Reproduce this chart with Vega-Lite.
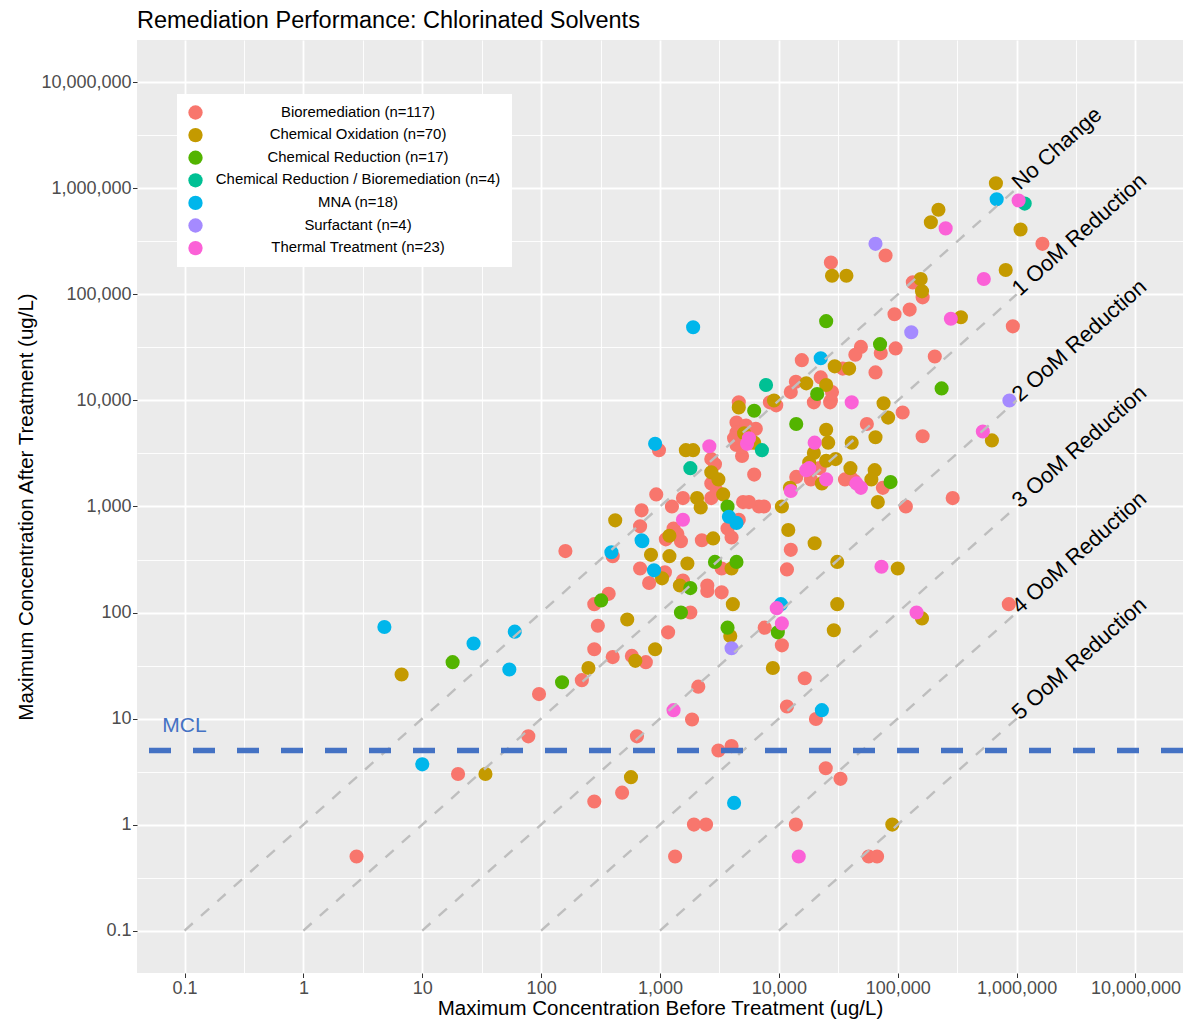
{
  "$schema": "https://vega.github.io/schema/vega-lite/v6.json",
  "width": 1046,
  "height": 933,
  "autosize": {"type": "none"},
  "padding": {"left": 137, "top": 40, "right": 3, "bottom": 47},
  "background": "white",
  "title": {
    "text": "Remediation Performance: Chlorinated Solvents",
    "anchor": "start",
    "frame": "group",
    "fontSize": 23.5,
    "fontWeight": "normal",
    "color": "black",
    "offset": 8
  },
  "config": {
    "font": "Liberation Sans",
    "view": {"fill": "#EBEBEB", "stroke": null},
    "axis": {
      "domain": false,
      "gridColor": "white",
      "tickColor": "#333333",
      "tickSize": 4.5,
      "tickWidth": 1,
      "labelFontSize": 18,
      "labelColor": "#4D4D4D",
      "labelPadding": 1.5,
      "titleFontSize": 20.5,
      "titleFontWeight": "normal",
      "titleColor": "black",
      "labelOverlap": false
    },
    "axisX": {"titlePadding": 1.5},
    "axisY": {"titlePadding": 4}
  },
  "datasets": {
    "sites": [
      {"method": "Bioremediation (n=117)", "before": 2.8, "after": 0.5},
      {"method": "Bioremediation (n=117)", "before": 20, "after": 3},
      {"method": "Bioremediation (n=117)", "before": 78, "after": 6.8},
      {"method": "Bioremediation (n=117)", "before": 96, "after": 17},
      {"method": "Bioremediation (n=117)", "before": 160, "after": 380},
      {"method": "Bioremediation (n=117)", "before": 220, "after": 23},
      {"method": "Bioremediation (n=117)", "before": 280, "after": 120},
      {"method": "Bioremediation (n=117)", "before": 370, "after": 150},
      {"method": "Bioremediation (n=117)", "before": 300, "after": 75},
      {"method": "Bioremediation (n=117)", "before": 280, "after": 45},
      {"method": "Bioremediation (n=117)", "before": 400, "after": 38},
      {"method": "Bioremediation (n=117)", "before": 580, "after": 39},
      {"method": "Bioremediation (n=117)", "before": 760, "after": 34},
      {"method": "Bioremediation (n=117)", "before": 1170, "after": 65},
      {"method": "Bioremediation (n=117)", "before": 1800, "after": 100},
      {"method": "Bioremediation (n=117)", "before": 2500, "after": 160},
      {"method": "Bioremediation (n=117)", "before": 3300, "after": 155},
      {"method": "Bioremediation (n=117)", "before": 2100, "after": 20},
      {"method": "Bioremediation (n=117)", "before": 1860, "after": 9.8},
      {"method": "Bioremediation (n=117)", "before": 640, "after": 6.8},
      {"method": "Bioremediation (n=117)", "before": 3100, "after": 5},
      {"method": "Bioremediation (n=117)", "before": 4000, "after": 5.5},
      {"method": "Bioremediation (n=117)", "before": 480, "after": 2},
      {"method": "Bioremediation (n=117)", "before": 280, "after": 1.65},
      {"method": "Bioremediation (n=117)", "before": 1930, "after": 1},
      {"method": "Bioremediation (n=117)", "before": 2440, "after": 1},
      {"method": "Bioremediation (n=117)", "before": 1340, "after": 0.5},
      {"method": "Bioremediation (n=117)", "before": 400, "after": 340},
      {"method": "Bioremediation (n=117)", "before": 700, "after": 920},
      {"method": "Bioremediation (n=117)", "before": 680, "after": 650},
      {"method": "Bioremediation (n=117)", "before": 680, "after": 260},
      {"method": "Bioremediation (n=117)", "before": 810, "after": 190},
      {"method": "Bioremediation (n=117)", "before": 1100, "after": 240},
      {"method": "Bioremediation (n=117)", "before": 930, "after": 1300},
      {"method": "Bioremediation (n=117)", "before": 980, "after": 3400},
      {"method": "Bioremediation (n=117)", "before": 2700, "after": 2800},
      {"method": "Bioremediation (n=117)", "before": 2700, "after": 1650},
      {"method": "Bioremediation (n=117)", "before": 1560, "after": 1200},
      {"method": "Bioremediation (n=117)", "before": 1260, "after": 1000},
      {"method": "Bioremediation (n=117)", "before": 2700, "after": 1200},
      {"method": "Bioremediation (n=117)", "before": 1300, "after": 620},
      {"method": "Bioremediation (n=117)", "before": 1120, "after": 490},
      {"method": "Bioremediation (n=117)", "before": 1500, "after": 470},
      {"method": "Bioremediation (n=117)", "before": 2250, "after": 480},
      {"method": "Bioremediation (n=117)", "before": 4000, "after": 510},
      {"method": "Bioremediation (n=117)", "before": 4600, "after": 750},
      {"method": "Bioremediation (n=117)", "before": 3700, "after": 620},
      {"method": "Bioremediation (n=117)", "before": 5000, "after": 1100},
      {"method": "Bioremediation (n=117)", "before": 1560, "after": 200},
      {"method": "Bioremediation (n=117)", "before": 3300, "after": 260},
      {"method": "Bioremediation (n=117)", "before": 2500, "after": 180},
      {"method": "Bioremediation (n=117)", "before": 4600, "after": 9600},
      {"method": "Bioremediation (n=117)", "before": 4400, "after": 6200},
      {"method": "Bioremediation (n=117)", "before": 5300, "after": 5800},
      {"method": "Bioremediation (n=117)", "before": 4400, "after": 5000},
      {"method": "Bioremediation (n=117)", "before": 4400, "after": 3800},
      {"method": "Bioremediation (n=117)", "before": 4900, "after": 3000},
      {"method": "Bioremediation (n=117)", "before": 6200, "after": 2000},
      {"method": "Bioremediation (n=117)", "before": 6800, "after": 1000},
      {"method": "Bioremediation (n=117)", "before": 6400, "after": 5400},
      {"method": "Bioremediation (n=117)", "before": 5800, "after": 4000},
      {"method": "Bioremediation (n=117)", "before": 8400, "after": 9600},
      {"method": "Bioremediation (n=117)", "before": 19700, "after": 9600},
      {"method": "Bioremediation (n=117)", "before": 27000, "after": 9600},
      {"method": "Bioremediation (n=117)", "before": 14000, "after": 1900},
      {"method": "Bioremediation (n=117)", "before": 18600, "after": 1800},
      {"method": "Bioremediation (n=117)", "before": 5600, "after": 1100},
      {"method": "Bioremediation (n=117)", "before": 7500, "after": 1000},
      {"method": "Bioremediation (n=117)", "before": 40000, "after": 1900},
      {"method": "Bioremediation (n=117)", "before": 43000, "after": 1750},
      {"method": "Bioremediation (n=117)", "before": 75000, "after": 1500},
      {"method": "Bioremediation (n=117)", "before": 55000, "after": 6000},
      {"method": "Bioremediation (n=117)", "before": 110000, "after": 7700},
      {"method": "Bioremediation (n=117)", "before": 162000, "after": 4600},
      {"method": "Bioremediation (n=117)", "before": 117000, "after": 1000},
      {"method": "Bioremediation (n=117)", "before": 290000, "after": 1200},
      {"method": "Bioremediation (n=117)", "before": 12600, "after": 390},
      {"method": "Bioremediation (n=117)", "before": 11700, "after": 255},
      {"method": "Bioremediation (n=117)", "before": 7600, "after": 72},
      {"method": "Bioremediation (n=117)", "before": 10600, "after": 49},
      {"method": "Bioremediation (n=117)", "before": 16500, "after": 24},
      {"method": "Bioremediation (n=117)", "before": 11700, "after": 13},
      {"method": "Bioremediation (n=117)", "before": 20500, "after": 9.9},
      {"method": "Bioremediation (n=117)", "before": 24800, "after": 3.4},
      {"method": "Bioremediation (n=117)", "before": 33000, "after": 2.7},
      {"method": "Bioremediation (n=117)", "before": 13900, "after": 1},
      {"method": "Bioremediation (n=117)", "before": 57000, "after": 0.5},
      {"method": "Bioremediation (n=117)", "before": 67000, "after": 0.5},
      {"method": "Bioremediation (n=117)", "before": 79000, "after": 233000},
      {"method": "Bioremediation (n=117)", "before": 27400, "after": 200000},
      {"method": "Bioremediation (n=117)", "before": 134000, "after": 130000},
      {"method": "Bioremediation (n=117)", "before": 162000, "after": 94000},
      {"method": "Bioremediation (n=117)", "before": 94000, "after": 65000},
      {"method": "Bioremediation (n=117)", "before": 126000, "after": 72000},
      {"method": "Bioremediation (n=117)", "before": 49000, "after": 32000},
      {"method": "Bioremediation (n=117)", "before": 44000, "after": 27000},
      {"method": "Bioremediation (n=117)", "before": 72000, "after": 28000},
      {"method": "Bioremediation (n=117)", "before": 96000, "after": 31000},
      {"method": "Bioremediation (n=117)", "before": 205000, "after": 26000},
      {"method": "Bioremediation (n=117)", "before": 15600, "after": 24000},
      {"method": "Bioremediation (n=117)", "before": 34500, "after": 20000},
      {"method": "Bioremediation (n=117)", "before": 65000, "after": 18400},
      {"method": "Bioremediation (n=117)", "before": 13900, "after": 15000},
      {"method": "Bioremediation (n=117)", "before": 12600, "after": 12000},
      {"method": "Bioremediation (n=117)", "before": 22500, "after": 16500},
      {"method": "Bioremediation (n=117)", "before": 28000, "after": 12000},
      {"method": "Bioremediation (n=117)", "before": 27400, "after": 10000},
      {"method": "Bioremediation (n=117)", "before": 1650000, "after": 300000},
      {"method": "Bioremediation (n=117)", "before": 930000, "after": 50000},
      {"method": "Bioremediation (n=117)", "before": 860000, "after": 120},
      {"method": "Bioremediation (n=117)", "before": 4200, "after": 4400},
      {"method": "Bioremediation (n=117)", "before": 2900, "after": 2500},
      {"method": "Bioremediation (n=117)", "before": 3000, "after": 1400},
      {"method": "Bioremediation (n=117)", "before": 1400, "after": 550},
      {"method": "Bioremediation (n=117)", "before": 22000, "after": 2300},
      {"method": "Bioremediation (n=117)", "before": 36000, "after": 1800},
      {"method": "Bioremediation (n=117)", "before": 9500, "after": 9000},
      {"method": "Chemical Oxidation (n=70)", "before": 6.7, "after": 26},
      {"method": "Chemical Oxidation (n=70)", "before": 34, "after": 3},
      {"method": "Chemical Oxidation (n=70)", "before": 250, "after": 30},
      {"method": "Chemical Oxidation (n=70)", "before": 420, "after": 740},
      {"method": "Chemical Oxidation (n=70)", "before": 530, "after": 86},
      {"method": "Chemical Oxidation (n=70)", "before": 570, "after": 2.8},
      {"method": "Chemical Oxidation (n=70)", "before": 620, "after": 35},
      {"method": "Chemical Oxidation (n=70)", "before": 910, "after": 45},
      {"method": "Chemical Oxidation (n=70)", "before": 840, "after": 350},
      {"method": "Chemical Oxidation (n=70)", "before": 1040, "after": 210},
      {"method": "Chemical Oxidation (n=70)", "before": 1200, "after": 340},
      {"method": "Chemical Oxidation (n=70)", "before": 1200, "after": 530},
      {"method": "Chemical Oxidation (n=70)", "before": 1650, "after": 3400},
      {"method": "Chemical Oxidation (n=70)", "before": 1900, "after": 3400},
      {"method": "Chemical Oxidation (n=70)", "before": 2700, "after": 2100},
      {"method": "Chemical Oxidation (n=70)", "before": 2050, "after": 1200},
      {"method": "Chemical Oxidation (n=70)", "before": 2200, "after": 980},
      {"method": "Chemical Oxidation (n=70)", "before": 3400, "after": 1300},
      {"method": "Chemical Oxidation (n=70)", "before": 2800, "after": 500},
      {"method": "Chemical Oxidation (n=70)", "before": 1700, "after": 290},
      {"method": "Chemical Oxidation (n=70)", "before": 1470, "after": 180},
      {"method": "Chemical Oxidation (n=70)", "before": 4000, "after": 260},
      {"method": "Chemical Oxidation (n=70)", "before": 4100, "after": 120},
      {"method": "Chemical Oxidation (n=70)", "before": 3900, "after": 60},
      {"method": "Chemical Oxidation (n=70)", "before": 4600, "after": 8600},
      {"method": "Chemical Oxidation (n=70)", "before": 5100, "after": 4900},
      {"method": "Chemical Oxidation (n=70)", "before": 6200, "after": 4000},
      {"method": "Chemical Oxidation (n=70)", "before": 9100, "after": 10000},
      {"method": "Chemical Oxidation (n=70)", "before": 25000, "after": 5300},
      {"method": "Chemical Oxidation (n=70)", "before": 26000, "after": 4000},
      {"method": "Chemical Oxidation (n=70)", "before": 19700, "after": 3200},
      {"method": "Chemical Oxidation (n=70)", "before": 18000, "after": 2600},
      {"method": "Chemical Oxidation (n=70)", "before": 23000, "after": 1650},
      {"method": "Chemical Oxidation (n=70)", "before": 30000, "after": 2800},
      {"method": "Chemical Oxidation (n=70)", "before": 25000, "after": 2700},
      {"method": "Chemical Oxidation (n=70)", "before": 12400, "after": 1500},
      {"method": "Chemical Oxidation (n=70)", "before": 10600, "after": 1000},
      {"method": "Chemical Oxidation (n=70)", "before": 41000, "after": 4000},
      {"method": "Chemical Oxidation (n=70)", "before": 40000, "after": 2300},
      {"method": "Chemical Oxidation (n=70)", "before": 64000, "after": 2200},
      {"method": "Chemical Oxidation (n=70)", "before": 60000, "after": 1800},
      {"method": "Chemical Oxidation (n=70)", "before": 68000, "after": 1100},
      {"method": "Chemical Oxidation (n=70)", "before": 76000, "after": 9400},
      {"method": "Chemical Oxidation (n=70)", "before": 83000, "after": 6900},
      {"method": "Chemical Oxidation (n=70)", "before": 65000, "after": 4500},
      {"method": "Chemical Oxidation (n=70)", "before": 12000, "after": 600},
      {"method": "Chemical Oxidation (n=70)", "before": 20000, "after": 450},
      {"method": "Chemical Oxidation (n=70)", "before": 31000, "after": 300},
      {"method": "Chemical Oxidation (n=70)", "before": 100000, "after": 260},
      {"method": "Chemical Oxidation (n=70)", "before": 31000, "after": 120},
      {"method": "Chemical Oxidation (n=70)", "before": 29000, "after": 68},
      {"method": "Chemical Oxidation (n=70)", "before": 8900, "after": 30},
      {"method": "Chemical Oxidation (n=70)", "before": 160000, "after": 88},
      {"method": "Chemical Oxidation (n=70)", "before": 90000, "after": 1},
      {"method": "Chemical Oxidation (n=70)", "before": 29500, "after": 21000},
      {"method": "Chemical Oxidation (n=70)", "before": 39000, "after": 20000},
      {"method": "Chemical Oxidation (n=70)", "before": 28000, "after": 150000},
      {"method": "Chemical Oxidation (n=70)", "before": 37000, "after": 150000},
      {"method": "Chemical Oxidation (n=70)", "before": 156000, "after": 140000},
      {"method": "Chemical Oxidation (n=70)", "before": 160000, "after": 107000},
      {"method": "Chemical Oxidation (n=70)", "before": 340000, "after": 61000},
      {"method": "Chemical Oxidation (n=70)", "before": 220000, "after": 630000},
      {"method": "Chemical Oxidation (n=70)", "before": 190000, "after": 480000},
      {"method": "Chemical Oxidation (n=70)", "before": 670000, "after": 1120000},
      {"method": "Chemical Oxidation (n=70)", "before": 1080000, "after": 410000},
      {"method": "Chemical Oxidation (n=70)", "before": 810000, "after": 170000},
      {"method": "Chemical Oxidation (n=70)", "before": 620000, "after": 4200},
      {"method": "Chemical Oxidation (n=70)", "before": 17000, "after": 14500},
      {"method": "Chemical Oxidation (n=70)", "before": 25000, "after": 14000},
      {"method": "Chemical Oxidation (n=70)", "before": 3100, "after": 1800},
      {"method": "Chemical Reduction (n=17)", "before": 18, "after": 34},
      {"method": "Chemical Reduction (n=17)", "before": 150, "after": 22},
      {"method": "Chemical Reduction (n=17)", "before": 320, "after": 130},
      {"method": "Chemical Reduction (n=17)", "before": 1500, "after": 100},
      {"method": "Chemical Reduction (n=17)", "before": 3700, "after": 72},
      {"method": "Chemical Reduction (n=17)", "before": 3700, "after": 1000},
      {"method": "Chemical Reduction (n=17)", "before": 2900, "after": 300},
      {"method": "Chemical Reduction (n=17)", "before": 4400, "after": 300},
      {"method": "Chemical Reduction (n=17)", "before": 1800, "after": 170},
      {"method": "Chemical Reduction (n=17)", "before": 6200, "after": 8000},
      {"method": "Chemical Reduction (n=17)", "before": 14000, "after": 6000},
      {"method": "Chemical Reduction (n=17)", "before": 87000, "after": 1700},
      {"method": "Chemical Reduction (n=17)", "before": 9800, "after": 65},
      {"method": "Chemical Reduction (n=17)", "before": 25000, "after": 56000},
      {"method": "Chemical Reduction (n=17)", "before": 71000, "after": 34000},
      {"method": "Chemical Reduction (n=17)", "before": 21000, "after": 11500},
      {"method": "Chemical Reduction (n=17)", "before": 234000, "after": 13000},
      {"method": "Chemical Reduction / Bioremediation (n=4)", "before": 1800, "after": 2300},
      {"method": "Chemical Reduction / Bioremediation (n=4)", "before": 7200, "after": 3400},
      {"method": "Chemical Reduction / Bioremediation (n=4)", "before": 7800, "after": 14000},
      {"method": "Chemical Reduction / Bioremediation (n=4)", "before": 1170000, "after": 720000},
      {"method": "MNA (n=18)", "before": 4.8, "after": 73},
      {"method": "MNA (n=18)", "before": 27, "after": 51},
      {"method": "MNA (n=18)", "before": 60, "after": 66},
      {"method": "MNA (n=18)", "before": 54, "after": 29},
      {"method": "MNA (n=18)", "before": 10, "after": 3.7},
      {"method": "MNA (n=18)", "before": 390, "after": 370},
      {"method": "MNA (n=18)", "before": 710, "after": 470},
      {"method": "MNA (n=18)", "before": 890, "after": 250},
      {"method": "MNA (n=18)", "before": 910, "after": 3900},
      {"method": "MNA (n=18)", "before": 1900, "after": 49000},
      {"method": "MNA (n=18)", "before": 3800, "after": 800},
      {"method": "MNA (n=18)", "before": 4400, "after": 700},
      {"method": "MNA (n=18)", "before": 4200, "after": 1.6},
      {"method": "MNA (n=18)", "before": 10400, "after": 120},
      {"method": "MNA (n=18)", "before": 23000, "after": 12},
      {"method": "MNA (n=18)", "before": 22500, "after": 25000},
      {"method": "MNA (n=18)", "before": 680000, "after": 790000},
      {"method": "MNA (n=18)", "before": 700, "after": 480},
      {"method": "Surfactant (n=4)", "before": 65000, "after": 300000},
      {"method": "Surfactant (n=4)", "before": 130000, "after": 44000},
      {"method": "Surfactant (n=4)", "before": 870000, "after": 10000},
      {"method": "Surfactant (n=4)", "before": 4000, "after": 46},
      {"method": "Thermal Treatment (n=23)", "before": 1300, "after": 12},
      {"method": "Thermal Treatment (n=23)", "before": 2600, "after": 3700},
      {"method": "Thermal Treatment (n=23)", "before": 1560, "after": 750},
      {"method": "Thermal Treatment (n=23)", "before": 5400, "after": 3900},
      {"method": "Thermal Treatment (n=23)", "before": 20000, "after": 4000},
      {"method": "Thermal Treatment (n=23)", "before": 17000, "after": 2200},
      {"method": "Thermal Treatment (n=23)", "before": 25000, "after": 1800},
      {"method": "Thermal Treatment (n=23)", "before": 12600, "after": 1400},
      {"method": "Thermal Treatment (n=23)", "before": 49000, "after": 1500},
      {"method": "Thermal Treatment (n=23)", "before": 45000, "after": 1650},
      {"method": "Thermal Treatment (n=23)", "before": 41000, "after": 9600},
      {"method": "Thermal Treatment (n=23)", "before": 73000, "after": 270},
      {"method": "Thermal Treatment (n=23)", "before": 9600, "after": 110},
      {"method": "Thermal Treatment (n=23)", "before": 10600, "after": 79},
      {"method": "Thermal Treatment (n=23)", "before": 14700, "after": 0.5},
      {"method": "Thermal Treatment (n=23)", "before": 144000, "after": 100},
      {"method": "Thermal Treatment (n=23)", "before": 253000, "after": 420000},
      {"method": "Thermal Treatment (n=23)", "before": 280000, "after": 59000},
      {"method": "Thermal Treatment (n=23)", "before": 530000, "after": 140000},
      {"method": "Thermal Treatment (n=23)", "before": 1040000, "after": 770000},
      {"method": "Thermal Treatment (n=23)", "before": 520000, "after": 5100},
      {"method": "Thermal Treatment (n=23)", "before": 18000, "after": 2300},
      {"method": "Thermal Treatment (n=23)", "before": 5600, "after": 4400}
    ],
    "reduction_lines": [
      {"label": "No Change", "start_before": 0.1, "start_after": 0.1, "end_before": 1000000, "end_after": 1000000},
      {"label": "1 OoM Reduction", "start_before": 1, "start_after": 0.1, "end_before": 1000000, "end_after": 100000},
      {"label": "2 OoM Reduction", "start_before": 10, "start_after": 0.1, "end_before": 1000000, "end_after": 10000},
      {"label": "3 OoM Reduction", "start_before": 100, "start_after": 0.1, "end_before": 1000000, "end_after": 1000},
      {"label": "4 OoM Reduction", "start_before": 1000, "start_after": 0.1, "end_before": 1000000, "end_after": 100},
      {"label": "5 OoM Reduction", "start_before": 10000, "start_after": 0.1, "end_before": 1000000, "end_after": 10}
    ],
    "limits": [
      {"label": "MCL", "value": 5}
    ]
  },
  "layer": [
    {
      "data": {"name": "sites"},
      "mark": {"type": "circle", "size": 200, "opacity": 1},
      "encoding": {
        "x": {
          "field": "before",
          "type": "quantitative",
          "scale": {"type": "log", "domain": [0.0398107, 25118864], "nice": false},
          "axis": {
            "title": "Maximum Concentration Before Treatment (ug/L)",
            "values": [0.1, 0.316228, 1, 3.16228, 10, 31.6228, 100, 316.228, 1000, 3162.28, 10000, 31622.8, 100000, 316228, 1000000, 3162278, 10000000],
            "labelExpr": "abs(log(datum.value)/LN10 - round(log(datum.value)/LN10)) > 0.25 ? '' : format(datum.value, ',')",
            "gridWidth": {"condition": {"test": "abs(log(datum.value)/LN10 - round(log(datum.value)/LN10)) > 0.25", "value": 0.9}, "value": 1.8},
            "tickOpacity": {"condition": {"test": "abs(log(datum.value)/LN10 - round(log(datum.value)/LN10)) > 0.25", "value": 0}, "value": 1}
          }
        },
        "y": {
          "field": "after",
          "type": "quantitative",
          "scale": {"type": "log", "domain": [0.0398107, 25118864], "nice": false},
          "axis": {
            "title": "Maximum Concentration After Treatment (ug/L)",
            "values": [0.1, 0.316228, 1, 3.16228, 10, 31.6228, 100, 316.228, 1000, 3162.28, 10000, 31622.8, 100000, 316228, 1000000, 3162278, 10000000],
            "labelExpr": "abs(log(datum.value)/LN10 - round(log(datum.value)/LN10)) > 0.25 ? '' : format(datum.value, ',')",
            "gridWidth": {"condition": {"test": "abs(log(datum.value)/LN10 - round(log(datum.value)/LN10)) > 0.25", "value": 0.9}, "value": 1.8},
            "tickOpacity": {"condition": {"test": "abs(log(datum.value)/LN10 - round(log(datum.value)/LN10)) > 0.25", "value": 0}, "value": 1}
          }
        },
        "color": {
          "field": "method",
          "type": "nominal",
          "scale": {
            "domain": ["Bioremediation (n=117)", "Chemical Oxidation (n=70)", "Chemical Reduction (n=17)", "Chemical Reduction / Bioremediation (n=4)", "MNA (n=18)", "Surfactant (n=4)", "Thermal Treatment (n=23)"],
            "range": ["#F8766D", "#C49A00", "#53B400", "#00C094", "#00B6EB", "#A58AFF", "#FB61D7"]
          },
          "legend": {
            "title": null,
            "orient": "none",
            "legendX": 40,
            "legendY": 54,
            "fillColor": "white",
            "padding": 11,
            "symbolType": "circle",
            "symbolSize": 205,
            "symbolOpacity": 1,
            "symbolStrokeWidth": 0,
            "labelFontSize": 14.9,
            "labelColor": "black",
            "labelAlign": "center",
            "labelOffset": 155,
            "labelLimit": 0,
            "rowPadding": 6.6
          }
        }
      }
    },
    {
      "data": {"name": "reduction_lines"},
      "mark": {"type": "rule", "color": "#BEBEBE", "strokeWidth": 2.4, "strokeDash": [11, 11]},
      "encoding": {
        "x": {"field": "start_before", "type": "quantitative", "axis": {"title": "Maximum Concentration Before Treatment (ug/L)"}},
        "y": {"field": "start_after", "type": "quantitative", "axis": {"title": "Maximum Concentration After Treatment (ug/L)"}},
        "x2": {"field": "end_before"},
        "y2": {"field": "end_after"}
      }
    },
    {
      "data": {"name": "reduction_lines"},
      "mark": {"type": "text", "angle": -41.7, "align": "left", "baseline": "alphabetic", "dx": 1, "dy": 4, "fontSize": 22, "color": "black"},
      "encoding": {
        "x": {"field": "end_before", "type": "quantitative", "axis": {"title": "Maximum Concentration Before Treatment (ug/L)"}},
        "y": {"field": "end_after", "type": "quantitative", "axis": {"title": "Maximum Concentration After Treatment (ug/L)"}},
        "text": {"field": "label"}
      }
    },
    {
      "data": {"name": "limits"},
      "mark": {"type": "rule", "color": "#4472C4", "strokeWidth": 5.5, "strokeDash": [22, 22]},
      "encoding": {
        "y": {"field": "value", "type": "quantitative", "axis": {"title": "Maximum Concentration After Treatment (ug/L)"}}
      }
    },
    {
      "data": {"name": "limits"},
      "mark": {"type": "text", "align": "center", "baseline": "middle", "dy": -24, "fontSize": 21, "color": "#4472C4"},
      "encoding": {
        "x": {"datum": 0.1, "type": "quantitative"},
        "y": {"field": "value", "type": "quantitative", "axis": {"title": "Maximum Concentration After Treatment (ug/L)"}},
        "text": {"field": "label"}
      }
    }
  ]
}
